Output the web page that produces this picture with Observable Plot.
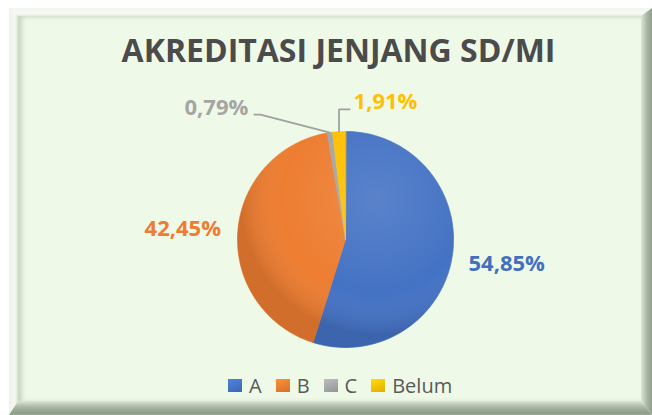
<!DOCTYPE html>
<html><head><meta charset="utf-8">
<script src="https://cdn.jsdelivr.net/npm/d3@7"></script>
<script src="https://cdn.jsdelivr.net/npm/@observablehq/plot@0.6"></script>
<style>
body{margin:0;background:#fff;}
#wrap{position:relative;width:652px;height:415px;overflow:hidden;font-family:"Open Sans",sans-serif;}
.band{position:absolute;left:0;top:0;width:652px;height:415px;}
#fill{position:absolute;left:18px;top:16px;width:623px;height:385px;background:#eff9e7;
  box-shadow:inset 4px 1px 4px rgba(130,150,120,0.35);}
#outline{position:absolute;left:9px;top:8px;width:650px;height:410px;border:1px solid #d3d9cf;box-sizing:border-box;}
#bt{background:linear-gradient(to bottom,#f2f6ee 8px,#f7faf4 14px,#dfe6db 16px);clip-path:polygon(9px 8px,652px 8px,641px 16px,18px 16px);}
#bl{background:linear-gradient(to right,#eef3ea 9px,#f5f8f2 15px,#d9e2d4 18px);clip-path:polygon(9px 8px,18px 16px,18px 401px,9px 415px);}
#br{background:linear-gradient(to right,#dfe6da 641px,#a9b6a4 647px,#909f8b 652px);clip-path:polygon(652px 8px,652px 415px,641px 401px,641px 16px);}
#bb{background:linear-gradient(to bottom,#dde5d9 401px,#aab7a5 407px,#8e9d89 413px,#9aa895 415px);clip-path:polygon(9px 415px,18px 401px,641px 401px,652px 415px);}
#title{position:absolute;left:0;width:677px;top:28px;text-align:center;font-weight:700;font-size:32px;color:#4b4b4b;}
#legend{position:absolute;left:228px;top:372px;display:flex;align-items:center;font-size:20px;color:#595959;}
#legend .it{display:flex;align-items:center;margin-right:14px;}
#legend .sw{width:14px;height:13px;margin-right:7px;}
#chart{position:absolute;left:0;top:0;}
</style></head>
<body>
<div id="wrap">
  <div id="outline"></div>
  <div class="band" id="bt"></div>
  <div class="band" id="bl"></div>
  <div class="band" id="br"></div>
  <div class="band" id="bb"></div>
  <div id="fill"></div>
  <div id="title">AKREDITASI JENJANG SD/MI</div>
  <div id="chart"></div>
  <div id="legend"></div>
</div>
<script>
// ---- data ----
const categories = ["A", "B", "C", "Belum"];
const values = [54.85, 42.45, 0.79, 1.91];
const labels = ["54,85%", "42,45%", "0,79%", "1,91%"];
const colors = ["#4472c4", "#ed7d31", "#a5a5a5", "#ffc000"];
const labelColors = ["#4270c0", "#ed7d31", "#a5a5a5", "#ffc000"];

// ---- layout ----
const W = 652, H = 415;
const cx = 345, cy = 239, R = 108;
// label placements (unit radius coordinates) for small slices with leader lines
const smallLabel = {
  C:     {tx: -0.90, ty: -1.215, anchor: "end",   elbow: [-0.787, -1.157], end: [-0.85, -1.157]},
  Belum: {tx: 0.075, ty: -1.27,  anchor: "start", elbow: null,            end: [0.045, -1.204]}
};

const rows = categories.map((c, i) => ({cat: c, value: values[i], label: labels[i], lc: labelColors[i]}));
const arcs = d3.pie().sort(null).value(d => d.value).startAngle(0).endAngle(2 * Math.PI)(rows);

// polygon points for slices (unit circle, y downward)
const pts = [];
arcs.forEach(a => {
  const n = Math.max(2, Math.ceil((a.endAngle - a.startAngle) / 0.01));
  pts.push({cat: a.data.cat, x: 0, y: 0});
  for (let k = 0; k <= n; k++) {
    const t = a.startAngle + (a.endAngle - a.startAngle) * k / n;
    pts.push({cat: a.data.cat, x: Math.sin(t), y: -Math.cos(t)});
  }
});

const textRows = [];
const leaders = [];
arcs.forEach(a => {
  const mid = (a.startAngle + a.endAngle) / 2;
  const c = a.data.cat;
  if (smallLabel[c]) {
    const s = smallLabel[c];
    textRows.push({x: s.tx, y: s.ty, label: a.data.label, color: a.data.lc, anchor: s.anchor});
    const ex = Math.sin(mid), ey = -Math.cos(mid);
    const path = [{x: ex, y: ey}];
    if (s.elbow) path.push({x: s.elbow[0], y: s.elbow[1]});
    else path.push({x: ex, y: s.end[1]});
    path.push({x: s.end[0], y: s.end[1]});
    path.forEach(p => leaders.push({cat: c, ...p}));
  } else {
    textRows.push({x: 1.51 * Math.sin(mid), y: -1.51 * Math.cos(mid), label: a.data.label, color: a.data.lc, anchor: "middle"});
  }
});

const plot = Plot.plot({
  width: W, height: H,
  margin: 0,
  style: {background: "transparent", overflow: "visible", fontFamily: "'Open Sans', sans-serif"},
  x: {domain: [-cx / R, (W - cx) / R], range: [0, W], axis: null},
  y: {domain: [-cy / R, (H - cy) / R], range: [0, H], axis: null},
  color: {domain: categories, range: colors},
  marks: [
    Plot.line(pts, {x: "x", y: "y", z: "cat", fill: "cat", stroke: "cat", strokeWidth: 0.8, curve: "linear-closed"}),
    Plot.line(pts, {x: "x", y: "y", z: "cat", fill: "url(#shade)", stroke: "none", curve: "linear-closed"}),
    Plot.line(leaders, {x: "x", y: "y", z: "cat", stroke: "#a0a0a0", strokeWidth: 1.8, strokeLinecap: "butt", strokeLinejoin: "miter"}),
    ...["start", "middle", "end"].map(anc => Plot.text(textRows.filter(d => d.anchor === anc), {
      x: "x", y: "y", text: "label", fill: d => d.color, textAnchor: anc, fontSize: 22, fontWeight: 700
    }))
  ]
});
// radial shading gradient for pseudo-3D effect
const defs = d3.select(plot).insert("defs", ":first-child");
const g = defs.append("radialGradient").attr("id", "shade").attr("gradientUnits", "userSpaceOnUse")
  .attr("cx", cx + 30).attr("cy", cy - 40).attr("r", R * 1.25);
g.append("stop").attr("offset", "0").attr("stop-color", "#ffffff").attr("stop-opacity", 0.12);
g.append("stop").attr("offset", "0.7").attr("stop-color", "#ffffff").attr("stop-opacity", 0.0);
g.append("stop").attr("offset", "1").attr("stop-color", "#000000").attr("stop-opacity", 0.12);
document.getElementById("chart").appendChild(plot);

// legend
const lg = d3.select("#legend");
categories.forEach((c, i) => {
  const it = lg.append("div").attr("class", "it");
  it.append("div").attr("class", "sw").style("background", `linear-gradient(160deg, ${d3.color(colors[i]).brighter(0.4)}, ${d3.color(colors[i]).darker(0.3)})`);
  it.append("span").text(c);
});
</script>
</body></html>
